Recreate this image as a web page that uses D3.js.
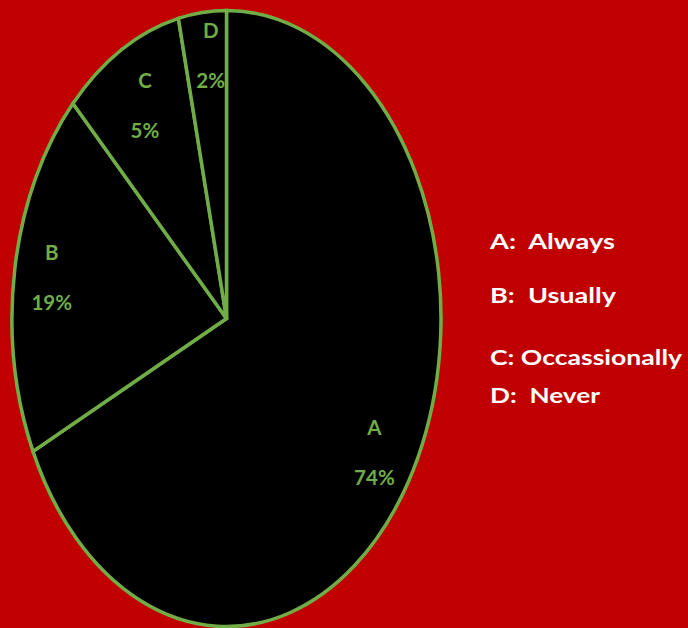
<!DOCTYPE html>
<html>
<head>
<meta charset="utf-8">
<script src="https://cdn.jsdelivr.net/npm/d3@7"></script>
<style>
  html, body { margin: 0; padding: 0; background: #c00000; }
  svg { display: block; }
</style>
</head>
<body>
<svg id="chart" width="688" height="628"></svg>
<script>
// ---- data ----
const categories = ["A", "B", "C", "D"];
// slice shares as drawn in the picture (angular share of each wedge)
const sliceShares = [67.9, 19.4, 9.1, 3.6];
// percentage labels as printed on the slices
const percentLabels = ["74%", "19%", "5%", "2%"];
const legendLabels = ["A:  Always", "B:  Usually", "C: Occassionally", "D:  Never"];

// ---- layout ----
const W = 688, H = 628;
const cx = 226.5, cy = 318.5, rx = 214.5, ry = 308;
const R = 100;               // unit radius before elliptical scaling
const green = "#70ad47";
const labelRadii = [0.815, 0.826, 0.795, 0.86];   // fraction of radius for each slice label
const labelShiftX = [0, 0, 2, 5];                  // small horizontal nudges, px
const legendX = 490;
const legendBaselines = [249, 303, 365, 403];
const legendWidths = [125, 126, 192, 110];

const svg = d3.select("#chart");
svg.append("rect").attr("width", W).attr("height", H).attr("fill", "#c00000");

const data = categories.map((c, i) => ({ cat: c, share: sliceShares[i], label: percentLabels[i] }));

const pie = d3.pie().sort(null).value(d => d.share);
const arcs = pie(data);
const arc = d3.arc().innerRadius(0).outerRadius(R);

const sx = rx / R, sy = ry / R;

const g = svg.append("g").attr("transform", `translate(${cx},${cy}) scale(${sx},${sy})`);
g.selectAll("path.slice")
  .data(arcs)
  .join("path")
  .attr("class", "slice")
  .attr("d", arc)
  .attr("fill", "#000")
  .attr("stroke", green)
  .attr("stroke-width", 3.5)
  .attr("stroke-linejoin", "miter")
  .attr("vector-effect", "non-scaling-stroke");

// slice labels: letter above, percentage below, centered on a label-arc centroid
const lg = svg.append("g").attr("transform", `translate(${cx},${cy})`);
const labels = lg.selectAll("g.lbl")
  .data(arcs)
  .join("g")
  .attr("class", "lbl")
  .attr("transform", (d, i) => {
    const r = R * labelRadii[i];
    const [x, y] = d3.arc().innerRadius(r).outerRadius(r).centroid(d);
    return `translate(${x * sx + labelShiftX[i]},${y * sy})`;
  });

labels.append("text")
  .attr("text-anchor", "middle")
  .attr("y", -17.5)
  .attr("fill", green)
  .attr("font-family", "Lato, 'Open Sans', sans-serif")
  .attr("font-weight", "bold")
  .attr("font-size", 20.5)
  .text(d => d.data.cat);

labels.append("text")
  .attr("text-anchor", "middle")
  .attr("y", 32.5)
  .attr("fill", green)
  .attr("font-family", "Lato, 'Open Sans', sans-serif")
  .attr("font-weight", "bold")
  .attr("font-size", 20.5)
  .text(d => d.data.label);

// legend text
svg.append("g").selectAll("text")
  .data(legendLabels)
  .join("text")
  .attr("x", legendX)
  .attr("y", (d, i) => legendBaselines[i])
  .attr("fill", "#ffffff")
  .attr("font-family", "Lato, 'Open Sans', sans-serif")
  .attr("font-weight", "bold")
  .attr("font-size", 21.5)
  .attr("textLength", (d, i) => legendWidths[i])
  .attr("lengthAdjust", "spacingAndGlyphs")
  .style("white-space", "pre")
  .text(d => d);
</script>
</body>
</html>
